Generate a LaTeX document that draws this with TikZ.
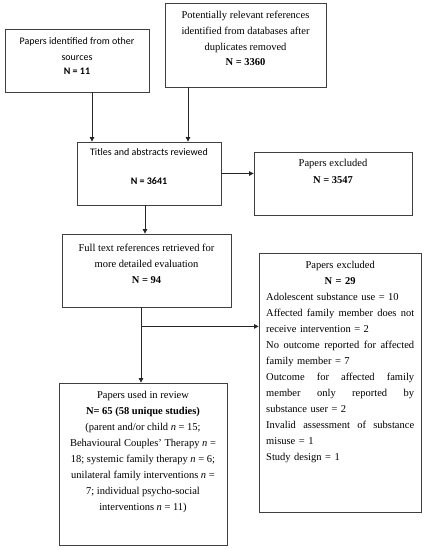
\documentclass[tikz,border=0pt]{standalone}
\usepackage{fontspec}
\setmainfont{Liberation Serif}
\setsansfont{Carlito}
\usetikzlibrary{arrows.meta}
\newcommand{\jline}[1]{\makebox[148pt][l]{#1}}
\begin{document}
\begin{tikzpicture}[x=1pt,y=-1pt,
  box/.style={draw=black!75, line width=0.8pt, inner sep=0pt},
  txt/.style={inner sep=0pt, anchor=north, align=center, font=\fontsize{10.5}{16}\selectfont},
  stxt/.style={inner sep=0pt, anchor=north, align=center, font=\sffamily\fontsize{10}{15.5}\selectfont},
  arr/.style={draw=black!85, line width=0.8pt, -{Triangle[length=4.5pt,width=4.5pt]}},
  ln/.style={draw=black!85, line width=0.8pt}]
\useasboundingbox (0,0) rectangle (425,550);
% boxes
\node[box, minimum width=144pt, minimum height=63pt] (b1) at (77,60.5) {};
\node[box, minimum width=161pt, minimum height=84pt] (b2) at (245.5,45) {};
\node[box, minimum width=144pt, minimum height=63pt] (b3) at (149,173.5) {};
\node[box, minimum width=158pt, minimum height=63pt] (b4) at (333,183.5) {};
\node[box, minimum width=169pt, minimum height=73pt] (b5) at (146.5,270.5) {};
\node[box, minimum width=162pt, minimum height=259pt] (b6) at (340,382.5) {};
\node[box, minimum width=168pt, minimum height=162pt] (b7) at (143,464) {};
% texts
\node[stxt] (t1) at (77,37.5) {Papers identified from other\\sources\\[-1.5pt]\textbf{N = 11}};
\node[txt] (t2) at (245.5,10.5) {Potentially relevant references\\identified from databases after\\duplicates removed\\[-1pt]\textbf{N = 3360}};
\node[stxt] (t3) at (149,148.5) {Titles and abstracts reviewed\\[13.5pt]\textbf{N = 3641}};
\node[txt] (t4) at (333,159.5) {Papers excluded\\[1pt]\textbf{N = 3547}};
\node[txt] (t5) at (146.5,243.5) {Full text references retrieved for\\more detailed evaluation\\\textbf{N = 94}};
\node[txt, anchor=north west, align=left, text width=148pt] (t6) at (266,261.5) {%
\makebox[148pt]{Papers excluded}\\
\makebox[148pt]{\textbf{N = 29}}\\
Adolescent substance use = 10\\
\jline{Affected\hfill family\hfill member\hfill does\hfill not}\\
receive intervention = 2\\
\jline{No\hfill outcome\hfill reported\hfill for\hfill affected}\\
family member = 7\\
\jline{Outcome\hfill for\hfill affected\hfill family}\\
\jline{member\hfill only\hfill reported\hfill by}\\
substance user = 2\\
\jline{Invalid\hfill assessment\hfill of\hfill substance}\\
misuse = 1\\
Study design = 1};
\node[txt] (t7) at (143,391.5) {Papers used in review\\
\textbf{N= 65 (58 unique studies)}\\
(parent and/or child \textit{n} = 15;\\
Behavioural Couples’ Therapy \textit{n} =\\
18; systemic family therapy \textit{n} = 6;\\
unilateral family interventions \textit{n} =\\
7; individual psycho-social\\
interventions \textit{n} = 11)};
% connectors
\draw[arr] ([xshift=15pt]b1.south) -- ([xshift=15pt]b1.south |- b3.north);
\draw[arr] ([xshift=-57.5pt]b2.south) -- ([xshift=-57.5pt]b2.south |- b3.north);
\draw[arr] (b3.east) -- (b3.east -| b4.west);
\draw[arr] ([xshift=-4pt]b3.south) -- ([xshift=-4pt]b3.south |- b5.north);
\draw[arr] ([xshift=-5.5pt]b5.south) -- ([xshift=-5.5pt]b5.south |- b7.north);
\coordinate (br) at ([xshift=-5.5pt,yshift=-19pt]b5.south);
\draw[arr] (br) -- (br -| b6.west);
\end{tikzpicture}
\end{document}
